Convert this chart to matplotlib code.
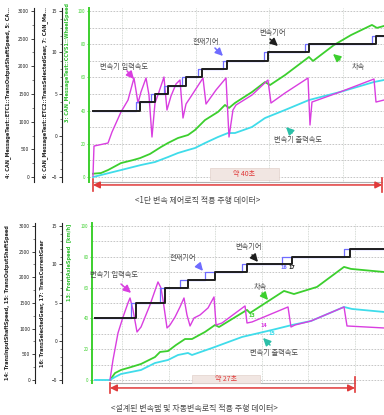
import matplotlib
matplotlib.use("Agg")
import matplotlib.pyplot as plt
import matplotlib.transforms as mtransforms
from matplotlib.patches import Rectangle
from matplotlib.ticker import MultipleLocator

plt.rcParams["font.family"] = ["Noto Sans CJK KR", "DejaVu Sans"]

W, H = 384, 415

# ---------------------------------------------------------------- run 1 data
# 1-step shift logic: time [s], vehicle speed [km/h], shaft speeds [rpm], gears
top_spd_t = [6.04, 6.32, 7.13, 8.09, 9.85, 11.49, 12.44, 13.80, 15.30, 16.25, 17.61,
             18.97, 19.92, 21.28, 23.05, 24.00, 24.55, 25.36, 27.68, 29.45, 30.13,
             32.17, 35.43, 35.98, 38.83, 41.15, 44.00, 44.68, 45.64]
top_spd = [2.0, 2.1, 2.4, 4.2, 8.4, 10.2, 11.4, 13.9, 18.1, 20.5, 23.5,
           25.3, 28.3, 34.3, 39.2, 43.4, 41.6, 44.6, 51.2, 57.2, 55.4,
           61.4, 72.3, 69.9, 79.5, 85.5, 91.6, 89.8, 91.0]

top_out_t = [6.04, 6.32, 7.13, 9.85, 12.57, 14.48, 16.25, 17.61, 18.97, 19.92, 21.28,
             23.05, 24.41, 25.36, 27.68, 29.45, 32.17, 35.43, 39.65, 44.28, 45.64]
top_out = [0, 9, 36, 126, 217, 271, 361, 434, 488, 524, 614,
           723, 795, 795, 904, 1066, 1211, 1391, 1536, 1717, 1753]

top_in_t = [6.04, 6.18, 8.09, 8.63, 9.85, 10.81, 11.62, 12.17, 12.57, 13.26, 13.66,
            14.07, 14.48, 15.02, 15.70, 16.11, 16.66, 17.34, 17.88, 18.29, 18.70,
            19.51, 21.01, 21.42, 22.78, 24.14, 24.55, 25.09, 25.50, 27.68, 29.85,
            30.26, 32.17, 35.30, 35.57, 35.84, 39.65, 44.28, 44.55, 45.64]
top_in = [18, 560, 614, 813, 1175, 1391, 1789, 1337, 1536, 1789, 1482,
          723, 1337, 1536, 1807, 1211, 1464, 1681, 1753, 1066, 1319,
          1482, 1789, 1319, 1572, 1789, 723, 1211, 1301, 1482, 1753,
          1337, 1518, 1789, 940, 1355, 1536, 1771, 1355, 1391]

top_gear_t = [6.04, 12.44, 14.48, 16.25, 18.70, 20.87, 24.28, 29.85, 35.43, 44.55, 45.64]
top_sel_t = [6.04, 11.90, 13.95, 15.70, 18.20, 20.35, 23.70, 29.30, 34.90, 44.05, 45.64]
top_gear = [3, 4, 5, 6, 7, 8, 9, 10, 11, 12, 12]

# ---------------------------------------------------------------- run 2 data
# designed shift map + automatic shift logic
bot_spd_t = [3.71, 4.25, 4.89, 5.97, 7.04, 8.54, 9.08, 9.94, 10.79, 11.76, 12.51,
             13.91, 14.98, 15.41, 18.41, 18.73, 22.38, 23.45, 25.92, 28.82, 29.57, 33.11]
bot_spd = [0.0, 4.5, 6.5, 8.4, 10.4, 14.9, 18.2, 18.8, 22.7, 26.6, 26.6,
           31.2, 35.7, 34.4, 45.5, 43.5, 57.8, 55.8, 60.4, 73.4, 72.1, 70.1]

bot_out_t = [2.10, 3.71, 4.25, 4.89, 7.04, 8.54, 9.94, 11.01, 12.08, 12.51, 14.66,
             17.88, 21.09, 23.24, 25.28, 28.82, 29.68, 33.11]
bot_out = [0, 0, 58, 117, 195, 331, 390, 487, 526, 487, 623,
           838, 974, 1071, 1149, 1422, 1383, 1325]

bot_in_t = [3.71, 4.03, 4.57, 5.11, 5.64, 5.86, 6.18, 6.61, 7.04, 8.00, 8.86,
            9.18, 9.40, 9.83, 10.15, 10.69, 11.22, 11.65, 11.97, 12.30, 12.73,
            13.37, 14.23, 14.87, 15.09, 15.73, 18.20, 18.41, 18.95, 22.81, 23.13,
            23.56, 25.28, 28.82, 29.14, 33.11]
bot_in = [0, 390, 916, 1227, 1500, 1597, 1364, 935, 1032, 1461, 1909,
          1792, 1558, 1013, 1071, 1227, 1422, 1597, 1266, 1052, 1208,
          1266, 1403, 1617, 1071, 1110, 1442, 1110, 1130, 1422, 1032,
          1071, 1149, 1422, 1052, 1013]

bot_gear_t = [2.10, 6.50, 9.61, 12.08, 14.98, 18.41, 23.24, 29.46, 33.11]
bot_sel_t = [2.10, 6.00, 9.10, 11.22, 13.91, 17.88, 22.20, 28.82, 33.11]
bot_gear = [3, 5, 7, 8, 9, 10, 11, 12, 12]

C_SPD = "#3ccf2e"
C_IN = "#d93ee0"
C_OUT = "#3fdcea"
C_GEAR = "#1e1e1e"
C_SEL = "#6f6cff"
C_RED = "#e03a3a"
C_TXT = "#4a4a4a"


def px_axes(fig, left, top, right, bottom):
    return fig.add_axes([left / W, 1 - bottom / H, (right - left) / W, (bottom - top) / H])


def side_axis(host, offset_px):
    a = host.twinx()
    for s in ("right", "top", "bottom"):
        a.spines[s].set_visible(False)
    a.spines["left"].set_visible(True)
    a.spines["left"].set_position(("outward", offset_px * 0.72))
    a.spines["left"].set_color("#222")
    a.spines["left"].set_linewidth(0.8)
    a.yaxis.set_ticks_position("left")
    a.yaxis.set_label_position("left")
    a.tick_params(axis="y", which="major", labelsize=3.5, length=2.5, width=0.6, pad=1,
                  colors="#222")
    a.tick_params(axis="y", which="minor", length=1.3, width=0.4, colors="#222")
    return a


def panel(fig, box, spd_ylim, xlim, xgrid, rpm_off, gear_off):
    ax = px_axes(fig, *box)
    ax.set_xlim(*xlim)
    ax.set_ylim(*spd_ylim)
    ax.set_xticks(xgrid)
    ax.tick_params(axis="x", bottom=False, labelbottom=False)
    ax.yaxis.set_major_locator(MultipleLocator(20))
    ax.yaxis.set_minor_locator(MultipleLocator(10))
    ax.tick_params(axis="y", which="major", colors=C_SPD, labelsize=3.2, length=1.5,
                   width=0.6, pad=1)
    ax.tick_params(axis="y", which="minor", length=0)
    ax.grid(axis="y", which="both", color="#bdbdbd", linewidth=0.6, linestyle=(0, (2, 1.6)))
    ax.grid(axis="x", color="#c9d0c9", linewidth=0.6, linestyle=(0, (1, 1)))
    for s in ("top", "right", "bottom"):
        ax.spines[s].set_visible(False)
    ax.spines["left"].set_color(C_SPD)
    ax.spines["left"].set_linewidth(1.4)
    ax.set_axisbelow(True)

    ax_rpm = side_axis(ax, rpm_off)
    ax_rpm.set_ylim(spd_ylim[0] * 30, spd_ylim[1] * 30)
    ax_rpm.yaxis.set_major_locator(MultipleLocator(500))
    ax_rpm.yaxis.set_minor_locator(MultipleLocator(250))

    ax_gear = side_axis(ax, gear_off)
    ax_gear.set_ylim(-5 + spd_ylim[0] * 0.2, -5 + spd_ylim[1] * 0.2)
    ax_gear.yaxis.set_major_locator(MultipleLocator(5))
    ax_gear.yaxis.set_minor_locator(MultipleLocator(1))
    return ax, ax_rpm, ax_gear


def draw_traces(ax, ax_rpm, ax_gear, spd_t, spd, out_t, out, in_t, inp, sel_t, gear_t, gear):
    ax.plot(spd_t, spd, color=C_SPD, linewidth=1.3, zorder=3)
    ax_rpm.plot(out_t, out, color=C_OUT, linewidth=1.3)
    ax_rpm.plot(in_t, inp, color=C_IN, linewidth=1.0)
    ax_gear.step(sel_t, gear, where="post", color=C_SEL, linewidth=0.9)
    ax_gear.step(gear_t, gear, where="post", color=C_GEAR, linewidth=1.4)


def note(ax, text, xy_text, head, tail, color):
    ax.text(xy_text[0], xy_text[1], text, fontsize=5.2, color=C_TXT, ha="left", va="center",
            clip_on=False)
    ax.annotate("", xy=head, xytext=tail,
                arrowprops=dict(arrowstyle="-|>,head_width=0.22,head_length=0.45",
                                color=color, lw=1.1, shrinkA=0, shrinkB=0),
                annotation_clip=False)


def span(ax, t0, t1, y, bar_l, bar_r, box_t, box_y, label):
    tr = mtransforms.blended_transform_factory(ax.transData, ax.transAxes)
    ax.plot([t0, t1], [0, 0], transform=tr, color="#b0b0b0", linewidth=0.8, clip_on=False)
    ax.add_patch(Rectangle((box_t[0], box_y[0]), box_t[1] - box_t[0], box_y[1] - box_y[0],
                           transform=tr, facecolor="#f1e6e2", edgecolor="#e2d2cc",
                           linewidth=0.5, clip_on=False, zorder=4))
    ax.text((box_t[0] + box_t[1]) / 2, (box_y[0] + box_y[1]) / 2, label, transform=tr,
            fontsize=5, color=C_RED, ha="center", va="center", zorder=5)
    ax.annotate("", xy=(t1, y), xytext=(t0, y), xycoords=tr, textcoords=tr,
                arrowprops=dict(arrowstyle="<|-|>,head_width=0.2,head_length=0.4",
                                color=C_RED, lw=1.1, shrinkA=0, shrinkB=0),
                annotation_clip=False)
    ax.plot([t0, t0], bar_l, transform=tr, color=C_RED, linewidth=1.2, clip_on=False)
    ax.plot([t1, t1], bar_r, transform=tr, color=C_RED, linewidth=1.2, clip_on=False)


fig = plt.figure(figsize=(W / 100, H / 100), dpi=100)

# ---- run 1: 1-step shift control logic
ax, ax_rpm, ax_gear = panel(fig, (89, 8, 384, 182), (-3.0, 101.8), (5.5, 45.64),
                            [10, 20, 30, 40], 55, 27)
draw_traces(ax, ax_rpm, ax_gear, top_spd_t, top_spd, top_out_t, top_out,
            top_in_t, top_in, top_sel_t, top_gear_t, top_gear)
note(ax, "변속기 입력속도", (7.0, 66.3), (11.62, 59.0), (10.67, 63.9), C_IN)
note(ax, "현재기어", (19.65, 81.3), (23.73, 72.9), (22.64, 77.7), C_SEL)
note(ax, "변속기어", (28.63, 86.7), (31.21, 78.9), (30.13, 83.1), C_GEAR)
note(ax, "차속", (41.28, 66.3), (38.70, 74.1), (39.65, 70.5), C_SPD)
note(ax, "변속기 출력속도", (30.67, 22.3), (32.30, 30.1), (33.12, 26.5), "#2bbfa8")
span(ax, 6.04, 45.4, -0.017, (0.017, -0.052), (0.023, -0.058),
     (21.96, 31.35), (0.011, 0.08), "약 40초")

fig.text(8 / W, 1 - 92 / H, "4: CAN_MessageTest::ETC1::TransOutputShaftSpeed, 5: CA...",
         rotation=90, fontsize=3.6, color="#222", ha="center", va="center",
         fontweight="bold", family="DejaVu Sans")
fig.text(45 / W, 1 - 92 / H, "6: CAN_MessageTest::ETC2::TransSelectedGear, 7: CAN_Me...",
         rotation=90, fontsize=3.6, color="#222", ha="center", va="center",
         fontweight="bold", family="DejaVu Sans")
fig.text(67 / W, 1 - 62 / H, "3: CAN_MessageTest::CCVS1::WheelSpeed",
         rotation=90, fontsize=3.6, color="#2fbf2f", ha="center", va="center",
         fontweight="bold", family="DejaVu Sans")
fig.text(198 / W, 1 - 200 / H, "<1단 변속 제어로직 적용 주행 데이터>", fontsize=5.8,
         color=C_TXT, ha="center", va="center")

# ---- run 2: designed shift map + automatic shift logic
bx, bx_rpm, bx_gear = panel(fig, (92, 223, 384, 383), (-1.95, 101.9), (1.78, 33.11),
                            [5, 10, 15, 20, 25, 30], 57, 30)
draw_traces(bx, bx_rpm, bx_gear, bot_spd_t, bot_spd, bot_out_t, bot_out,
            bot_in_t, bot_in, bot_sel_t, bot_gear_t, bot_gear)
note(bx, "변속기 입력속도", (1.57, 68.2), (5.97, 56.5), (4.89, 62.3), C_IN)
note(bx, "현재기어", (10.15, 79.2), (13.69, 70.8), (13.15, 74.7), C_SEL)
note(bx, "변속기어", (17.12, 86.4), (19.59, 76.6), (18.95, 81.2), C_GEAR)
note(bx, "차속", (19.16, 60.4), (20.67, 51.9), (20.02, 56.5), C_SPD)
note(bx, "변속기 출력속도", (18.73, 17.5), (20.13, 27.3), (20.88, 22.7), "#2bbfa8")
for label, t, v, c in [("13", 18.95, 41.6, C_SPD), ("14", 20.24, 35.1, C_IN),
                       ("15", 21.09, 29.9, C_OUT), ("16", 22.38, 72.7, C_SEL),
                       ("17", 23.24, 72.7, C_GEAR)]:
    bx.text(t, v, label, fontsize=3.5, color=c, ha="center", va="center",
            family="DejaVu Sans", fontweight="bold")
span(bx, 3.71, 30.0, -0.031, (0.0, -0.0625), (0.0375, -0.056),
     (12.51, 19.81), (0.0, 0.05), "약 27초")

fig.text(8 / W, 1 - 303 / H, "14: TransInputShaftSpeed, 15: TransOutputShaftSpeed",
         rotation=90, fontsize=3.6, color="#222", ha="center", va="center",
         fontweight="bold", family="DejaVu Sans")
fig.text(43 / W, 1 - 303 / H, "16: TransSelectedGear, 17: TransCurrentGear",
         rotation=90, fontsize=3.6, color="#222", ha="center", va="center",
         fontweight="bold", family="DejaVu Sans")
fig.text(69 / W, 1 - 262 / H, "13: FrontAxleSpeed  [km/h]",
         rotation=90, fontsize=3.6, color="#2fbf2f", ha="center", va="center",
         fontweight="bold", family="DejaVu Sans")
fig.text(194 / W, 1 - 408 / H, "<설계된 변속맵 및 자동변속로직 적용 주행 데이터>", fontsize=5.8,
         color=C_TXT, ha="center", va="center")

fig.savefig("out.png", dpi=100)
